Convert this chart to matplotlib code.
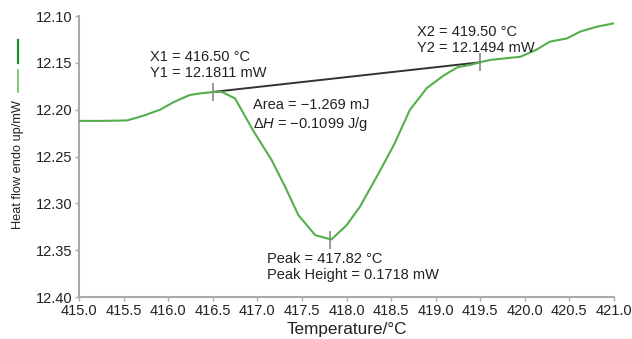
import matplotlib
matplotlib.use("Agg")
import matplotlib.pyplot as plt
from matplotlib.lines import Line2D

plt.rcParams['font.family'] = ['Liberation Sans', 'DejaVu Sans']
plt.rcParams['mathtext.fontset'] = 'custom'
plt.rcParams['mathtext.it'] = 'Liberation Sans:italic'
plt.rcParams['mathtext.rm'] = 'Liberation Sans'

# ---- data ----
temperature = [415.0, 415.25, 415.54, 415.72, 415.91, 416.06, 416.24, 416.36, 416.5,
               416.6, 416.75, 416.95, 417.16, 417.31, 417.46, 417.65, 417.83, 418.0,
               418.15, 418.38, 418.54, 418.71, 418.9, 419.09, 419.25, 419.38, 419.52,
               419.62, 419.95, 420.13, 420.28, 420.47, 420.62, 420.81, 421.0]
heat_flow = [12.212, 12.212, 12.2115, 12.2065, 12.200, 12.192, 12.1844, 12.1826, 12.1812,
             12.181, 12.188, 12.2218, 12.2538, 12.282, 12.3126, 12.334, 12.3386, 12.3235,
             12.3037, 12.2645, 12.236, 12.2004, 12.177, 12.1635, 12.1545, 12.1524, 12.1488,
             12.1468, 12.1435, 12.136, 12.1274, 12.124, 12.1167, 12.1114, 12.1078]

X1, Y1 = 416.50, 12.1811
X2, Y2 = 419.50, 12.1494
peak_T, peak_height = 417.82, 0.1718
area_mJ, dH = -1.269, -0.1099

x_ticks = [415.0, 415.5, 416.0, 416.5, 417.0, 417.5, 418.0, 418.5, 419.0, 419.5, 420.0, 420.5, 421.0]
y_ticks = [12.10, 12.15, 12.20, 12.25, 12.30, 12.35, 12.40]

GREEN = '#55ae4c'
GRAY = '#aaaaaa'
TXT = '#222222'

fig = plt.figure(figsize=(6.32, 3.39), dpi=100)
ax = fig.add_axes([79/632, 1-297/339, (614-79)/632, (297-16)/339])

ax.plot(temperature, heat_flow, color=GREEN, lw=1.5, zorder=3)
ax.plot([X1, X2], [Y1, Y2], color='#333333', lw=1.4, zorder=2)

# baseline value at peak
base_at_peak = Y1 + (Y2 - Y1) * (peak_T - X1) / (X2 - X1)
ax.plot([X1, X2, peak_T], [Y1, Y2, base_at_peak + peak_height], ls='none',
        marker='|', ms=13, mew=1.2, color='#888888', zorder=4)

ax.set_xlim(x_ticks[0], x_ticks[-1])
ax.set_ylim(y_ticks[-1], y_ticks[0])
ax.set_xticks(x_ticks)
ax.set_yticks(y_ticks)
ax.set_xticklabels([f'{v:.1f}' for v in x_ticks])
ax.set_yticklabels([f'{v:.2f}' for v in y_ticks])
ax.tick_params(axis='both', labelsize=10.5, colors=GRAY, labelcolor=TXT,
               length=3, width=1, pad=2)

for s in ['top', 'right']:
    ax.spines[s].set_visible(False)
for s in ['left', 'bottom']:
    ax.spines[s].set_color(GRAY)
    ax.spines[s].set_linewidth(1.5)

ax.set_xlabel('Temperature/°C', fontsize=12.3, color=TXT, labelpad=3)

fs = 10.5
ax.text(415.80, 12.1363, f'X1 = {X1:.2f} °C\nY1 = {Y1:.4f} mW', fontsize=fs,
        va='top', ha='left', color=TXT)
ax.text(418.79, 12.1096, f'X2 = {X2:.2f} °C\nY2 = {Y2:.4f} mW', fontsize=fs,
        va='top', ha='left', color=TXT)
ax.text(416.95, 12.1876,
        f'Area = \u2212{abs(area_mJ):.3f} mJ\n$\\Delta\\mathit{{H}}$ = \u2212{abs(dH):.4f} J/g',
        fontsize=fs, va='top', ha='left', color=TXT)
ax.text(417.11, 12.352, f'Peak = {peak_T:.2f} °C\nPeak Height = {peak_height:.4f} mW',
        fontsize=fs, va='top', ha='left', color=TXT)

# y label with line samples
fig.text(18/632, 1-165/339, 'Heat flow endo up/mW', rotation=90, fontsize=9.2,
         ha='center', va='center', color=TXT)
fig.add_artist(Line2D([18/632, 18/632], [1-40/339, 1-63/339], color='#1f8a2e', lw=1.6,
                      transform=fig.transFigure))
fig.add_artist(Line2D([18/632, 18/632], [1-70/339, 1-92/339], color='#6dbf66', lw=1.2,
                      transform=fig.transFigure))

fig.savefig('out.png', dpi=100)
